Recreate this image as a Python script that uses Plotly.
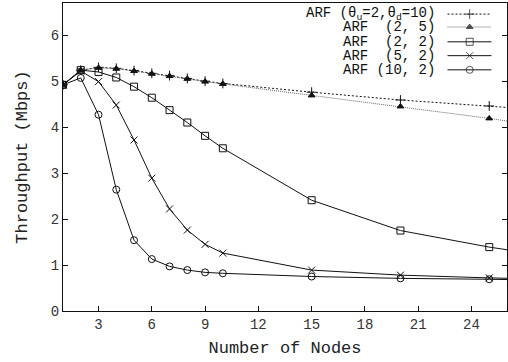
import plotly.graph_objects as go

# Throughput versus number of nodes for each ARF (theta_u, theta_d) setting
nodes = [1, 2, 3, 4, 5, 6, 7, 8, 9, 10, 15, 20, 25, 30]

arf_2_10 = [4.92, 5.24, 5.30, 5.28, 5.23, 5.17, 5.12, 5.06, 5.00, 4.95, 4.76, 4.59, 4.46, 4.32]
arf_2_5 = [4.92, 5.24, 5.29, 5.27, 5.22, 5.16, 5.11, 5.05, 4.99, 4.94, 4.69, 4.45, 4.19, 3.90]
arf_2_2 = [4.92, 5.24, 5.20, 5.08, 4.88, 4.64, 4.37, 4.10, 3.81, 3.54, 2.41, 1.75, 1.39, 1.10]
arf_5_2 = [4.92, 5.22, 4.99, 4.48, 3.72, 2.89, 2.22, 1.76, 1.45, 1.26, 0.89, 0.78, 0.72, 0.68]
arf_10_2 = [4.92, 5.07, 4.27, 2.64, 1.54, 1.13, 0.97, 0.89, 0.84, 0.82, 0.75, 0.71, 0.69, 0.66]

series_labels = [
    "ARF (θ<sub>u</sub>=2,θ<sub>d</sub>=10)",
    "ARF\u00a0\u00a0(2,\u00a05)",
    "ARF\u00a0\u00a0(2,\u00a02)",
    "ARF\u00a0\u00a0(5,\u00a02)",
    "ARF\u00a0(10,\u00a02)",
]

x_ticks = [3, 6, 9, 12, 15, 18, 21, 24]
y_ticks = [0, 1, 2, 3, 4, 5, 6]

FONT = "Liberation Mono"

styles = [
    dict(dash="2px,2px", color="#111", symbol="cross-thin-open", size=7, mcolor="#111"),
    dict(dash="1px,1px", color="#666", symbol="triangle-up", size=6, mcolor="#111"),
    dict(dash="solid", color="#111", symbol="square-open", size=7, mcolor="#111"),
    dict(dash="solid", color="#111", symbol="x-thin-open", size=7, mcolor="#111"),
    dict(dash="solid", color="#111", symbol="circle-open", size=7, mcolor="#111"),
]
all_series = [arf_2_10, arf_2_5, arf_2_2, arf_5_2, arf_10_2]

fig = go.Figure()

for vals, st in zip(all_series, styles):
    fig.add_trace(go.Scatter(
        x=nodes, y=vals, mode="lines+markers",
        line=dict(color=st["color"], width=1, dash=st["dash"]),
        marker=dict(symbol=st["symbol"], size=st["size"], color=st["mcolor"],
                    line=dict(color=st["mcolor"], width=1)),
        showlegend=False, cliponaxis=True,
    ))

# Key: right-aligned labels with a line sample to the right of each
key_rows = [0.964, 0.922, 0.874, 0.829, 0.783]
key_x = [0.866, 0.916, 0.965]
for row_y, label, st in zip(key_rows, series_labels, styles):
    fig.add_trace(go.Scatter(
        x=key_x, y=[row_y] * 3, xaxis="x2", yaxis="y2",
        mode="lines+markers",
        line=dict(color=st["color"], width=1, dash=st["dash"]),
        marker=dict(symbol=st["symbol"], size=[0, st["size"], 0], color=st["mcolor"],
                    line=dict(color=st["mcolor"], width=1)),
        showlegend=False, hoverinfo="skip",
    ))
    fig.add_annotation(
        x=0.842, y=row_y, xref="x2", yref="y2", text=label, showarrow=False,
        xanchor="right", yanchor="middle",
        font=dict(family=FONT, size=14, color="#111"),
    )

axis_common = dict(showgrid=False, zeroline=False, tickcolor="#111",
                   showline=True, linecolor="#111", linewidth=1)

fig.update_layout(
    width=508, height=362,
    margin=dict(l=63, r=1, t=3, b=51, autoexpand=False),
    paper_bgcolor="white", plot_bgcolor="white",
    font=dict(family=FONT, color="#222"),
    xaxis=dict(
        range=[1, 26], tickvals=x_ticks, ticks="inside", ticklen=5,
        mirror=True, **axis_common,
        tickfont=dict(family=FONT, size=14, color="#333"),
        title=dict(text="Number of Nodes", font=dict(family=FONT, size=17, color="#222"),
                   standoff=9),
    ),
    yaxis=dict(
        range=[0, 6.7], tickvals=y_ticks, ticks="inside", ticklen=5,
        mirror="ticks", **axis_common,
        tickfont=dict(family=FONT, size=14, color="#333"),
        title=dict(text="Throughput (Mbps)", font=dict(family=FONT, size=17, color="#222"),
                   standoff=18),
    ),
    # short outward stubs so the x ticks cross the axis line
    xaxis3=dict(range=[1, 26], tickvals=x_ticks, ticks="outside", ticklen=4,
                showticklabels=False, overlaying="x", anchor="y",
                showgrid=False, zeroline=False, showline=False, tickcolor="#111"),
    xaxis2=dict(range=[0, 1], overlaying="x", visible=False, fixedrange=True),
    yaxis2=dict(range=[0, 1], overlaying="y", visible=False, fixedrange=True),
)

fig.write_html("out.html")
